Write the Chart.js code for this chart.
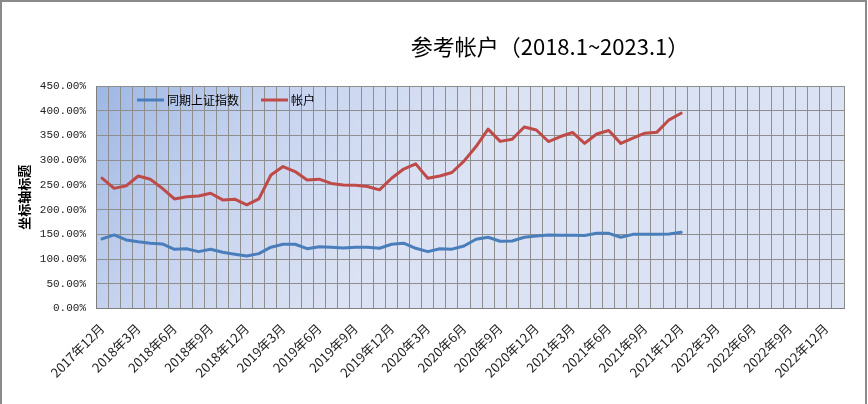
<!DOCTYPE html>
<html>
<head>
<meta charset="utf-8">
<script src="https://cdn.jsdelivr.net/npm/chart.js@4/dist/chart.umd.min.js"></script>
<style>
  html, body { margin: 0; padding: 0; background: #fff; }
  #wrap { width: 868px; height: 404px; }
</style>
</head>
<body>
<div id="wrap"><canvas id="accountChart" width="868" height="404"></canvas></div>
<script>
// 月份类别 (2017年12月 ~ 2023年1月)
const months = [
    '2017年12月',
    '2018年1月', '2018年2月', '2018年3月', '2018年4月', '2018年5月', '2018年6月',
    '2018年7月', '2018年8月', '2018年9月', '2018年10月', '2018年11月', '2018年12月',
    '2019年1月', '2019年2月', '2019年3月', '2019年4月', '2019年5月', '2019年6月',
    '2019年7月', '2019年8月', '2019年9月', '2019年10月', '2019年11月', '2019年12月',
    '2020年1月', '2020年2月', '2020年3月', '2020年4月', '2020年5月', '2020年6月',
    '2020年7月', '2020年8月', '2020年9月', '2020年10月', '2020年11月', '2020年12月',
    '2021年1月', '2021年2月', '2021年3月', '2021年4月', '2021年5月', '2021年6月',
    '2021年7月', '2021年8月', '2021年9月', '2021年10月', '2021年11月', '2021年12月',
    '2022年1月', '2022年2月', '2022年3月', '2022年4月', '2022年5月', '2022年6月',
    '2022年7月', '2022年8月', '2022年9月', '2022年10月', '2022年11月', '2022年12月',
    '2023年1月'
];

// 同期上证指数 (%)
const indexValues = [
    140.7, 148.8, 138.7, 135, 132, 130.6, 119.8, 121, 115, 119.8, 113.7, 109.7,
    106, 111, 124, 130, 130, 121, 125, 124, 122.5, 124, 124, 121.8,
    130, 132, 121.8, 115, 121, 120, 126.5, 140, 144, 136, 136.5, 144,
    146.8, 148.8, 148, 148, 147.5, 152, 152, 144, 150, 150, 150, 150.5,
    154
];

// 帐户 (%)
const accountValues = [
    263.6, 243, 248, 268, 261.5, 243, 221.6, 226, 227.7, 233, 219.6, 221,
    209.5, 221.6, 270, 287, 277, 260, 261.5, 253, 250, 249.5, 246.6, 240,
    263.5, 282, 292.5, 263.5, 268, 275, 298, 327.5, 362.7, 338, 342.5, 367,
    361, 337.7, 347.8, 356, 334, 353, 360, 334, 344.5, 354.6, 356.7, 381.6,
    395
];

const seriesNames = ['同期上证指数', '帐户'];
const chartTitle = '参考帐户（2018.1~2023.1）';
const yAxisTitle = '坐标轴标题';

const BLUE = '#4a7ebb';
const RED = '#be4b48';
const GRID = '#8e8e8e';

// 背景渐变、图例、标题、边框
const decorPlugin = {
    id: 'decor',
    beforeDraw(chart) {
        const { ctx, chartArea: a } = chart;
        ctx.save();
        const g = ctx.createLinearGradient(a.left, a.top, a.left + 260, a.top + 200);
        g.addColorStop(0, '#9db6e4');
        g.addColorStop(0.45, '#c6d3ef');
        g.addColorStop(1, '#dbe2f3');
        ctx.fillStyle = g;
        ctx.fillRect(a.left, a.top, a.right - a.left, a.bottom - a.top);
        ctx.restore();
    },
    afterDraw(chart) {
        const { ctx, chartArea: a } = chart;
        ctx.save();
        // 图例
        const items = [
            { color: BLUE, text: seriesNames[0], x: 137 },
            { color: RED, text: seriesNames[1], x: 261 }
        ];
        ctx.font = '12px "Noto Sans CJK SC"';
        ctx.textBaseline = 'middle';
        items.forEach(it => {
            ctx.strokeStyle = it.color;
            ctx.lineWidth = 3;
            ctx.beginPath();
            ctx.moveTo(it.x, a.top + 14);
            ctx.lineTo(it.x + 27, a.top + 14);
            ctx.stroke();
            ctx.fillStyle = '#000';
            ctx.fillText(it.text, it.x + 30, a.top + 14);
        });
        // 标题
        ctx.font = '22px "Noto Sans CJK SC"';
        ctx.textAlign = 'center';
        ctx.fillStyle = '#000';
        ctx.fillText(chartTitle, 550, 47);
        // 外框
        ctx.strokeStyle = '#8a8a8a';
        ctx.lineWidth = 2;
        ctx.beginPath();
        ctx.moveTo(1, 404);
        ctx.lineTo(1, 1);
        ctx.lineTo(866, 1);
        ctx.lineTo(866, 404);
        ctx.stroke();
        ctx.restore();
    }
};

new Chart(document.getElementById('accountChart'), {
    type: 'line',
    data: {
        labels: months,
        datasets: [{
            label: seriesNames[0],
            data: indexValues,
            borderColor: BLUE,
            backgroundColor: BLUE,
            borderWidth: 3,
            pointRadius: 0,
            tension: 0,
            borderJoinStyle: 'round',
            borderCapStyle: 'round'
        }, {
            label: seriesNames[1],
            data: accountValues,
            borderColor: RED,
            backgroundColor: RED,
            borderWidth: 3,
            pointRadius: 0,
            tension: 0,
            borderJoinStyle: 'round',
            borderCapStyle: 'round'
        }]
    },
    options: {
        responsive: false,
        animation: false,
        devicePixelRatio: 1,
        layout: {
            padding: { top: 86, right: 24, left: 0, bottom: 0 }
        },
        plugins: {
            legend: { display: false },
            title: { display: false },
            tooltip: { enabled: false }
        },
        scales: {
            x: {
                offset: true,
                grid: { offset: true, color: GRID, drawTicks: false },
                border: { color: '#7f7f7f' },
                ticks: {
                    autoSkip: false,
                    minRotation: 45,
                    maxRotation: 45,
                    padding: 12,
                    color: '#222',
                    font: { family: '"Noto Sans CJK SC"', size: 13 },
                    callback: (v, i) => (i % 3 === 0 ? months[i] : '')
                },
                afterFit: s => { s.height = 95.5; }
            },
            y: {
                min: 0,
                max: 450,
                grid: { color: GRID, drawTicks: false },
                border: { color: '#7f7f7f' },
                ticks: {
                    stepSize: 50,
                    padding: 10,
                    color: '#222',
                    font: { family: '"Liberation Mono"', size: 11 },
                    callback: v => v.toFixed(2) + '%'
                },
                title: {
                    display: true,
                    text: yAxisTitle,
                    color: '#000',
                    font: { family: '"Noto Sans CJK SC"', size: 13, weight: 'bold' },
                    padding: { top: 16, bottom: 0 }
                },
                afterFit: s => { s.width = 96; }
            }
        }
    },
    plugins: [decorPlugin]
});
</script>
</body>
</html>
